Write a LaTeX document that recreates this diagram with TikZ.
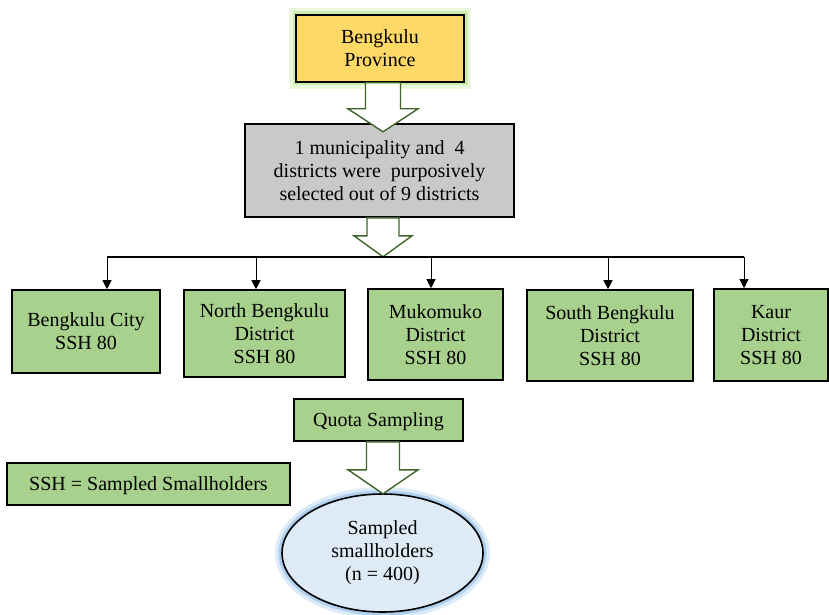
\documentclass[tikz,border=0pt]{standalone}
\usepackage{fontspec}
\setmainfont{Liberation Serif}
\usetikzlibrary{arrows.meta,calc,shapes.geometric}
\definecolor{boxgreen}{HTML}{A9D18E}
\definecolor{boxgold}{HTML}{FFD966}
\definecolor{boxgray}{HTML}{C9C9C9}
\definecolor{ellblue}{HTML}{DEEBF7}
\definecolor{glowblue}{HTML}{8FBCE8}
\definecolor{glowgreen}{HTML}{B5E68A}
\definecolor{arrowgreen}{HTML}{3F6428}
\begin{document}
\begin{tikzpicture}[x=1pt,y=-1pt,font=\fontsize{20}{23}\selectfont,
  box/.style={draw=black,line width=1.6pt,align=center,inner sep=0pt,
              execute at begin node={\rule{0pt}{18pt}}},
  gbox/.style={box,fill=boxgreen},
  greenglow/.style={preaction={draw=glowgreen,line width=14pt,opacity=0.3},
                    preaction={draw=glowgreen,line width=7pt,opacity=0.6}},
  blueglow/.style={preaction={draw=glowblue,line width=14pt,opacity=0.3},
                   preaction={draw=glowblue,line width=7pt,opacity=0.6}},
  barrow/.style={draw=arrowgreen,line width=1.4pt,fill=white,line join=miter},
  bus/.style={line width=1.8pt},
  drop/.style={line width=0.9pt,-{Triangle[length=9pt,width=9pt]}}]
\useasboundingbox (0,0) rectangle (829,615);

% nodes
\node[box,fill=boxgold,greenglow,minimum width=168,minimum height=67] (prov) at (380,48.5) {Bengkulu\\Province};
\node[box,fill=boxgray,minimum width=269,minimum height=93] (gray) at (379.5,170.5)
  {1 municipality and\ \ 4\\districts were\ \ purposively\\selected out of 9 districts};

\node[gbox,minimum width=148,minimum height=83] (city) at (86,331.5) {Bengkulu City\\SSH 80};
\node[gbox,minimum width=161,minimum height=87] (north) at (264.5,333.5) {North Bengkulu\\District\\SSH 80};
\node[gbox,minimum width=135,minimum height=91] (muko) at (435.5,334.5) {Mukomuko\\District\\SSH 80};
\node[gbox,minimum width=166,minimum height=91] (south) at (610,335.5) {South Bengkulu\\District\\SSH 80};
\node[gbox,minimum width=114,minimum height=92] (kaur) at (771,335) {Kaur\\District\\SSH 80};

\node[gbox,minimum width=169,minimum height=42] (quota) at (378.5,420) {Quota Sampling};
\node[gbox,minimum width=283,minimum height=42] (ssh) at (148.5,484) {SSH = Sampled Smallholders};
\node[box,ellipse,fill=ellblue,blueglow,minimum width=201,minimum height=118] (sample) at (382.5,553)
  {Sampled\\smallholders\\(n = 400)};

% block arrows
\draw[barrow] (prov.south) ++(-14.5,0) -- ++(0,26) -- ++(-17.5,0) -- ++(35,23) -- ++(35,-23)
  -- ++(-17.5,0) -- ++(0,-26) -- cycle;
\path (gray.south) ++(3.5,0) coordinate (g2);
\draw[barrow] (g2) ++(-16,0) -- ++(0,18) -- ++(-13,0) -- ++(29,21) -- ++(29,-21)
  -- ++(-13,0) -- ++(0,-18) -- cycle;
\path (quota.south) ++(4.5,0) coordinate (q2);
\draw[barrow] (q2) ++(-16.5,0) -- ++(0,28) -- ++(-18.5,0) -- ++(35,24) -- ++(35,-24)
  -- ++(-18.5,0) -- ++(0,-28) -- cycle;

% bus and drops
\coordinate (b1) at (107,257);
\coordinate (b2) at (256,257);
\coordinate (b3) at (431,257);
\coordinate (b4) at (608,257);
\coordinate (b5) at (744,257);
\draw[bus] (b1) -- (b5);
\draw[drop] (b1) -- (b1 |- city.north);
\draw[drop] (b2) -- (b2 |- north.north);
\draw[drop] (b3) -- (b3 |- muko.north);
\draw[drop] (b4) -- (b4 |- south.north);
\draw[drop] (b5) -- (b5 |- kaur.north);
\end{tikzpicture}
\end{document}
